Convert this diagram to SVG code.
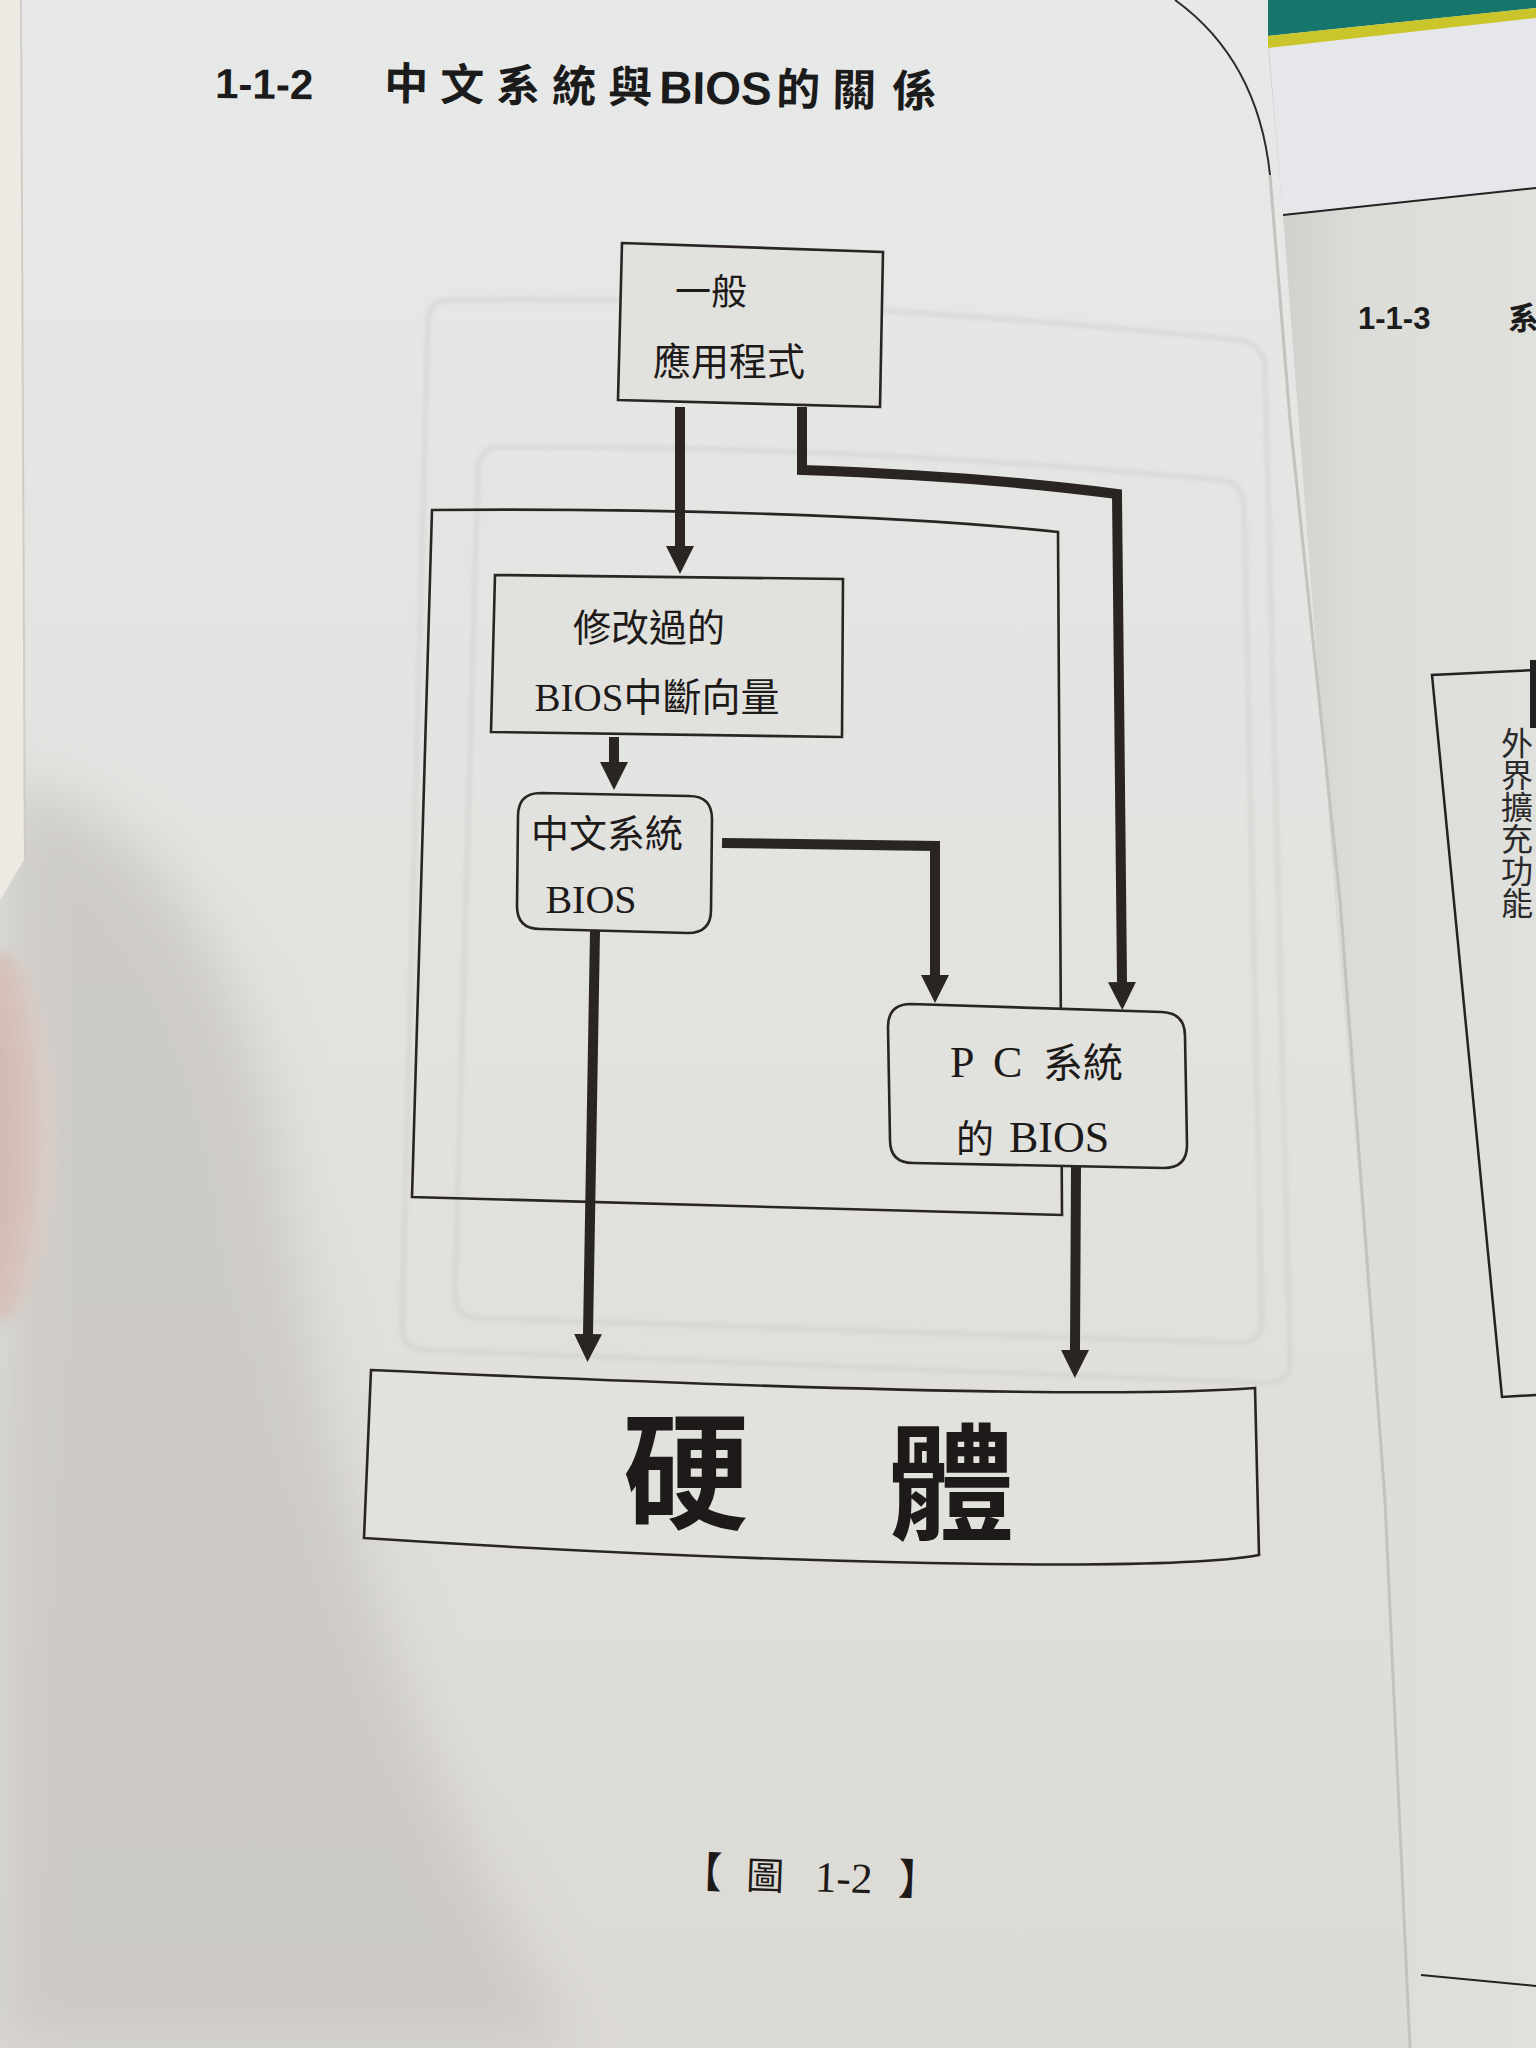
<svg xmlns="http://www.w3.org/2000/svg" width="1536" height="2048" viewBox="0 0 1536 2048">
<defs>
  <linearGradient id="page" x1="0" y1="0" x2="0" y2="1">
    <stop offset="0" stop-color="#e7e9e8"/>
    <stop offset="0.5" stop-color="#e2e2df"/>
    <stop offset="1" stop-color="#dcdad4"/>
  </linearGradient>
  <linearGradient id="rpage" x1="0" y1="0" x2="1" y2="0">
    <stop offset="0" stop-color="#cfcecb"/>
    <stop offset="0.35" stop-color="#dcdcd9"/>
    <stop offset="1" stop-color="#e0e0dd"/>
  </linearGradient>
  <radialGradient id="finger" cx="0.15" cy="0.5" r="0.85">
    <stop offset="0" stop-color="#c9aaa2"/>
    <stop offset="0.65" stop-color="#d6c0b9"/>
    <stop offset="1" stop-color="#d8d0cc"/>
  </radialGradient>
  <filter id="blur" x="-20%" y="-20%" width="140%" height="140%">
    <feGaussianBlur stdDeviation="30"/>
  </filter>
  <filter id="soft" x="-5%" y="-5%" width="110%" height="110%">
    <feGaussianBlur stdDeviation="2"/>
  </filter>
  <filter id="fblur" x="-50%" y="-20%" width="200%" height="140%">
    <feGaussianBlur stdDeviation="6"/>
  </filter>
  <marker id="ah" viewBox="0 0 28 28" refX="0" refY="14" markerWidth="28" markerHeight="28" markerUnits="userSpaceOnUse" orient="auto">
    <path d="M0,0 L28,14 L0,28 Z" fill="#2a2523"/>
  </marker>
  <style>
    .box { fill: #e1e1dd; stroke: #2a2523; stroke-width: 2.6; stroke-linejoin: miter; }
    .frame { fill: none; stroke: #2a2523; stroke-width: 2.6; }
    .conn { fill: none; stroke: #2a2523; stroke-width: 10; stroke-linecap: butt; stroke-linejoin: miter; }
    .lbl { font-family: "Liberation Serif", "Noto Sans CJK TC", serif; fill: #1d1a19; }
    .ghost { fill: none; stroke: #cbccc9; stroke-width: 4; opacity: 0.6; }
  </style>
</defs>

<!-- page background -->
<rect x="0" y="0" width="1536" height="2048" fill="url(#page)"/>
<!-- left shadow on page -->
<path d="M0,780 C120,800 230,900 280,1150 C330,1500 420,1800 580,2048 L0,2048 Z" fill="#c9c6c1" opacity="0.8" filter="url(#blur)"/>
<!-- book edge -->
<path d="M0,0 L20,0 L24,860 L0,900 Z" fill="#eceae2"/>
<line x1="21" y1="0" x2="25" y2="860" stroke="#cfcdc5" stroke-width="2"/>
<!-- finger -->
<ellipse cx="0" cy="1135" rx="56" ry="185" fill="url(#finger)" filter="url(#fblur)"/>

<!-- show-through ghost shapes -->
<g filter="url(#soft)">
  <path class="ghost" d="M450,300 Q800,295 1240,340 Q1265,345 1265,370 L1290,1360 Q1290,1383 1265,1383 L425,1350 Q402,1350 402,1325 L428,320 Q430,300 450,300 Z"/>
  <path class="ghost" d="M500,447 Q850,445 1220,480 Q1244,483 1244,505 L1262,1320 Q1262,1343 1240,1343 L478,1318 Q455,1318 455,1295 L478,468 Q480,447 500,447 Z" opacity="0.45"/>
</g>

<!-- right page -->
<path d="M1268,48 L1536,18 L1536,2048 L1410,2048 L1385,1500 L1335,900 L1283,215 Z" fill="url(#rpage)"/>
<path d="M1268,36 L1536,8 L1536,188 L1283,215 Z" fill="#e6e7ea"/>
<path d="M1268,0 L1536,0 L1536,8 L1268,36 Z" fill="#17766c"/>
<path d="M1268,36 L1536,8 L1536,18 L1268,48 Z" fill="#c9c52a"/>
<path d="M1175,0 Q1258,60 1270,175" fill="none" stroke="#2f2b2a" stroke-width="2"/>
<path d="M1270,175 L1290,420 L1340,900 L1385,1500 L1410,2048" fill="none" stroke="#c4c2bd" stroke-width="3"/>
<line x1="1283" y1="215" x2="1536" y2="188" stroke="#222" stroke-width="2"/>
<text x="1358" y="329" font-family="Liberation Sans, Arial, sans-serif" font-weight="bold" font-size="31" fill="#1c1c1c">1-1-3</text>
<text x="1508" y="329" font-family="Noto Sans CJK TC, sans-serif" font-weight="bold" font-size="31" fill="#1c1c1c">系</text>
<path d="M1536,670 L1432,675 L1502,1397 L1536,1395" fill="none" stroke="#222" stroke-width="2.5"/>
<rect x="1530" y="660" width="6" height="68" fill="#222"/>
<text x="1517" y="727" writing-mode="vertical-rl" font-family="Noto Sans CJK TC, sans-serif" font-size="32" fill="#2a2a2a">外界擴充功能</text>
<line x1="1421" y1="1975" x2="1536" y2="1986" stroke="#222" stroke-width="2"/>

<!-- title -->
<g id="title" transform="rotate(0.8 215 98)">
  <text x="215" y="98" font-family="Liberation Sans, Arial, sans-serif" font-weight="bold" font-size="42" fill="#1b1b1b">1-1-2 </text>
  <text y="97" font-family="Noto Sans CJK TC, sans-serif" font-weight="bold" font-size="44" fill="#1b1b1b"><tspan x="384 440 496 552 608">中文系統與</tspan><tspan x="659" font-family="Liberation Sans, Arial, sans-serif" font-size="46">BIOS</tspan><tspan x="776 832 892">的關係</tspan></text>
</g>

<!-- outer frame -->
<g id="frame">
  <path class="frame" d="M432,510 C650,508 900,515 1058,532 L1062,1215 L412,1197 Z"/>
</g>

<!-- connectors -->
<g id="connectors">
  <path class="conn" d="M680,407 L680,546" marker-end="url(#ah)"/>
  <path class="conn" d="M802,407 L802,470 Q980,476 1117,494 L1122,982" marker-end="url(#ah)"/>
  <path class="conn" d="M614,737 L614,762" marker-end="url(#ah)"/>
  <path class="conn" d="M722,843 L935,846 L935,975" marker-end="url(#ah)"/>
  <path class="conn" d="M595,931 L588,1334" marker-end="url(#ah)"/>
  <path class="conn" d="M1076,1166 L1075,1350" marker-end="url(#ah)"/>
</g>

<!-- nodes -->
<g id="node-app">
  <path class="box" d="M622,243 L883,252 L880,407 L618,400 Z"/>
  <text class="lbl" x="711" y="305" font-size="36" text-anchor="middle">一般</text>
  <text class="lbl" x="729" y="375" font-size="38" text-anchor="middle">應用程式</text>
</g>

<g id="node-vector">
  <path class="box" d="M495,575 L843,579 L842,737 L491,732 Z"/>
  <text class="lbl" x="649" y="641" font-size="38" text-anchor="middle">修改過的</text>
  <text class="lbl" x="657" y="711" font-size="39" text-anchor="middle">BIOS中斷向量</text>
</g>

<g id="node-cbios">
  <path class="box" d="M541,793 L689,796 Q712,796 712,819 L711,910 Q711,933 688,933 L540,929 Q517,929 517,906 L518,816 Q518,793 541,793 Z"/>
  <text class="lbl" x="607" y="847" font-size="38" text-anchor="middle">中文系統</text>
  <text class="lbl" x="591" y="913" font-size="40" text-anchor="middle">BIOS</text>
</g>

<g id="node-pcbios">
  <path class="box" d="M911,1004 L1162,1012 Q1185,1013 1185,1036 L1187,1145 Q1187,1168 1164,1168 L913,1163 Q890,1163 890,1140 L888,1027 Q888,1004 911,1004 Z"/>
  <text class="lbl" y="1077" font-size="44"><tspan x="950">P </tspan><tspan x="993">C </tspan><tspan x="1043" font-size="40">系統</tspan></text>
  <text class="lbl" y="1152" font-size="44"><tspan x="956" font-size="38">的 </tspan><tspan x="1009">BIOS</tspan></text>
</g>

<g id="node-hw">
  <path class="box" d="M371,1370 C700,1385 1100,1400 1255,1388 L1259,1555 C1150,1575 700,1560 364,1538 Z"/>
  <text x="686" y="1519" font-family="Noto Sans CJK TC, sans-serif" font-weight="bold" font-size="126" text-anchor="middle" fill="#1d1a19">硬</text>
  <text x="951" y="1530" font-family="Noto Sans CJK TC, sans-serif" font-weight="bold" font-size="126" text-anchor="middle" fill="#1d1a19">體</text>
</g>

<!-- caption -->
<g id="caption" transform="rotate(2 810 1880)">
  <text y="1891" font-family="Noto Sans CJK TC, serif" font-size="42" fill="#1d1a19"><tspan x="680">【 </tspan><tspan x="746" font-size="38">圖 </tspan><tspan x="815" font-family="Liberation Serif, serif" font-size="43">1-2 </tspan><tspan x="898">】</tspan></text>
</g>
</svg>
